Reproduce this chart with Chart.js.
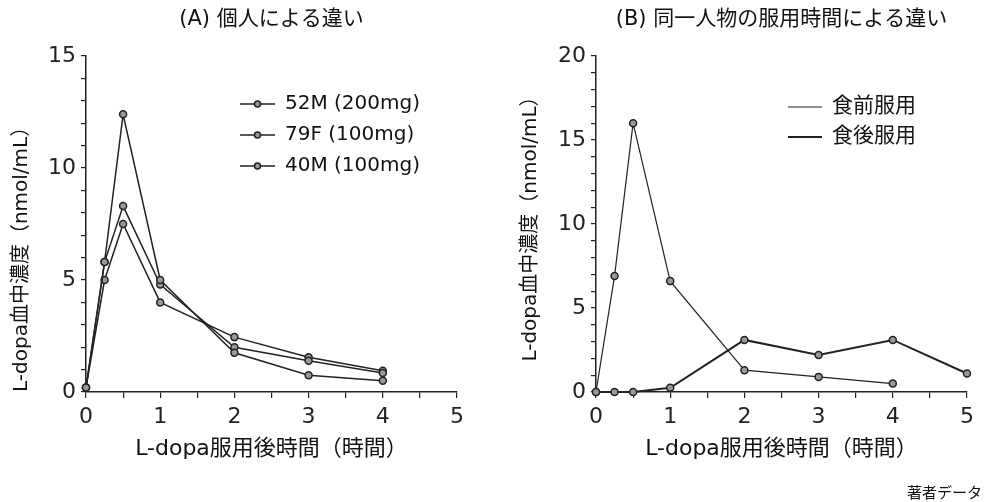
<!DOCTYPE html>
<html>
<head>
<meta charset="utf-8">
<script src="https://cdn.jsdelivr.net/npm/chart.js@4.4.0/dist/chart.umd.min.js"></script>
<style>
html, body { margin: 0; padding: 0; background: #fff; }
#wrap { position: relative; width: 988px; height: 502px; overflow: hidden; }
#leftCanvas { position: absolute; left: 0; top: 0; }
#rightCanvas { position: absolute; left: 494px; top: 0; }
#fuente { position: absolute; right: 6px; top: 481px; font: 15px "Noto Sans CJK JP"; color: #111; }
</style>
</head>
<body>
<div id="wrap">
  <canvas id="leftCanvas" width="494" height="502"></canvas>
  <canvas id="rightCanvas" width="494" height="502"></canvas>
  <div id="fuente">著者データ</div>
</div>
<script>
// Datos del panel (A): tiempo (horas) y concentración (nmol/mL)
const tiemposA = [0, 0.25, 0.5, 1, 2, 3, 4];
const etiquetasA = ['52M (200mg)', '79F (100mg)', '40M (100mg)'];
const valores52M = [0.2, 5.8, 12.4, 5.0, 1.75, 0.75, 0.5];
const valores79F = [0.2, 5.8, 8.3, 4.8, 2.0, 1.4, 0.85];
const valores40M = [0.2, 5.0, 7.5, 4.0, 2.45, 1.55, 0.95];

// Datos del panel (B)
const tiemposAntes = [0, 0.25, 0.5, 1, 2, 3, 4];
const valoresAntes = [0, 6.9, 16.0, 6.6, 1.3, 0.9, 0.5];
const tiemposDespues = [0, 0.25, 0.5, 1, 2, 3, 4, 5];
const valoresDespues = [0, 0, 0, 0.25, 3.1, 2.2, 3.1, 1.1];
const etiquetasB = ['食前服用', '食後服用'];

const titulos = ['(A) 個人による違い', '(B) 同一人物の服用時間による違い'];
const tituloX = 'L-dopa服用後時間（時間）';
const tituloY = 'L-dopa血中濃度（nmol/mL）';

const FUENTE = '"DejaVu Sans", "Noto Sans CJK JP", sans-serif';
const NEGRO = '#222';

// Unir tiempos y valores en puntos {x, y}
function puntos(xs, ys) {
    return xs.map((x, i) => ({ x: x, y: ys[i] }));
}

function serie(label, xs, ys, ancho) {
    return {
        label: label,
        data: puntos(xs, ys),
        borderColor: NEGRO,
        borderWidth: ancho,
        pointRadius: 3.5,
        pointBackgroundColor: '#999',
        pointBorderColor: NEGRO,
        pointBorderWidth: 1.5,
        tension: 0,
        clip: false
    };
}

// Plugin: título centrado sobre el área del gráfico
const tituloPlugin = {
    id: 'tituloPanel',
    afterDraw(chart, args, opts) {
        const { ctx, chartArea } = chart;
        ctx.save();
        ctx.fillStyle = '#111';
        ctx.font = '21px ' + FUENTE;
        ctx.textAlign = 'center';
        ctx.textBaseline = 'middle';
        ctx.fillText(opts.text, (chartArea.left + chartArea.right) / 2, opts.y);
        ctx.restore();
    }
};

// Plugin: leyenda dentro del área del gráfico
const leyendaPlugin = {
    id: 'leyenda',
    afterDraw(chart, args, opts) {
        const ctx = chart.ctx;
        ctx.save();
        chart.data.datasets.forEach((ds, i) => {
            const y = opts.top + i * opts.gap;
            ctx.strokeStyle = ds.borderColor;
            ctx.lineWidth = ds.borderWidth;
            ctx.beginPath();
            ctx.moveTo(opts.x, y);
            ctx.lineTo(opts.x + opts.len, y);
            ctx.stroke();
            if (opts.marker) {
                ctx.beginPath();
                ctx.arc(opts.x + opts.len / 2, y, 3, 0, Math.PI * 2);
                ctx.fillStyle = ds.pointBackgroundColor;
                ctx.fill();
                ctx.lineWidth = 1.5;
                ctx.stroke();
            }
            ctx.fillStyle = '#111';
            ctx.font = opts.font;
            ctx.textBaseline = 'middle';
            ctx.textAlign = 'left';
            ctx.fillText(ds.label, opts.x + opts.len + 10, y);
        });
        ctx.restore();
    }
};

function opcionesEscalas(maxY, padY, alignY) {
    return {
        x: {
            type: 'linear',
            min: 0,
            max: 5,
            afterFit: s => { s.height = 80; },
            border: { display: true, color: NEGRO, width: 1.5 },
            grid: { drawOnChartArea: false, drawTicks: true, tickLength: 6, color: NEGRO, lineWidth: 1.2 },
            ticks: {
                stepSize: 0.5,
                autoSkip: false,
                maxRotation: 0,
                padding: 6,
                color: NEGRO,
                font: { family: FUENTE, size: 22 },
                callback: v => (Number.isInteger(v) ? v : '')
            },
            title: {
                display: true,
                text: tituloX,
                color: '#111',
                font: { family: FUENTE, size: 22 },
                padding: { top: 0, bottom: 10 }
            }
        },
        y: {
            min: 0,
            max: maxY,
            afterFit: s => { s.width = s.chart.options.plugins.tituloPanel.ejeIzq; },
            border: { display: true, color: NEGRO, width: 1.5 },
            grid: { drawOnChartArea: false, drawTicks: true, tickLength: 5, color: NEGRO, lineWidth: 1.2 },
            ticks: {
                stepSize: 1,
                autoSkip: false,
                padding: 5,
                color: NEGRO,
                font: { family: FUENTE, size: 22 },
                callback: v => (v % 5 === 0 ? v : '')
            },
            title: {
                display: true,
                text: tituloY,
                align: alignY,
                color: '#111',
                font: { family: FUENTE, size: 20 },
                padding: { top: padY, bottom: 0 }
            }
        }
    };
}

// Panel (A)
new Chart(document.getElementById('leftCanvas'), {
    type: 'line',
    data: {
        datasets: [
            serie(etiquetasA[0], tiemposA, valores52M, 1.5),
            serie(etiquetasA[1], tiemposA, valores79F, 1.5),
            serie(etiquetasA[2], tiemposA, valores40M, 1.5)
        ]
    },
    options: {
        responsive: false,
        animation: false,
        layout: { padding: { left: 0, right: 37, top: 56, bottom: 30 } },
        scales: opcionesEscalas(15, 10, 'start'),
        plugins: {
            legend: { display: false },
            tooltip: { enabled: false },
            tituloPanel: { text: titulos[0], y: 20, ejeIzq: 86 },
            leyenda: { x: 240, len: 35, top: 104, gap: 31, marker: true, font: '20px ' + FUENTE }
        }
    },
    plugins: [tituloPlugin, leyendaPlugin]
});

// Panel (B)
new Chart(document.getElementById('rightCanvas'), {
    type: 'line',
    data: {
        datasets: [
            serie(etiquetasB[0], tiemposAntes, valoresAntes, 1.2),
            serie(etiquetasB[1], tiemposDespues, valoresDespues, 2)
        ]
    },
    options: {
        responsive: false,
        animation: false,
        layout: { padding: { left: 0, right: 21, top: 56, bottom: 30 } },
        scales: opcionesEscalas(20, 25, 'center'),
        plugins: {
            legend: { display: false },
            tooltip: { enabled: false },
            tituloPanel: { text: titulos[1], y: 20, ejeIzq: 102 },
            leyenda: { x: 294, len: 34, top: 107, gap: 30, marker: false, font: '21px ' + FUENTE }
        }
    },
    plugins: [tituloPlugin, leyendaPlugin]
});
</script>
</body>
</html>
